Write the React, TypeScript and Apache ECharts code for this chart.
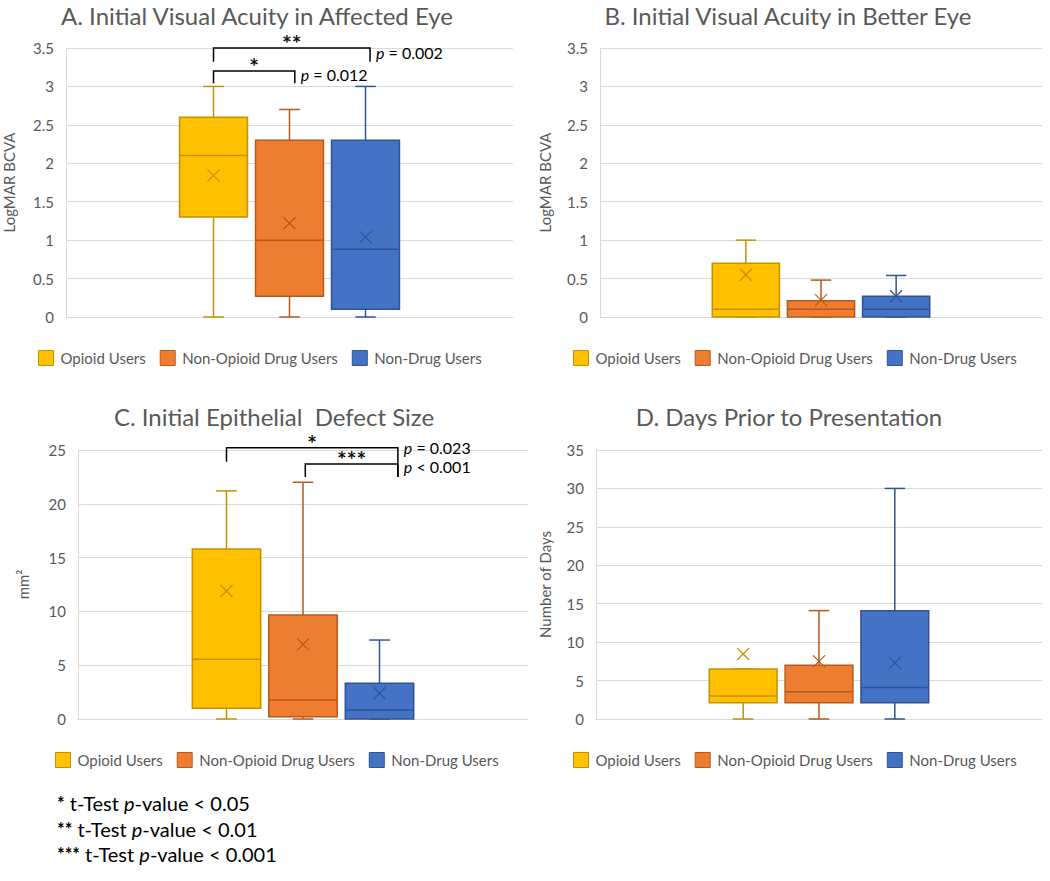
import React, { useEffect, useRef } from 'react';
import * as echarts from 'echarts';

const groups = ['Opioid Users', 'Non-Opioid Drug Users', 'Non-Drug Users'];

// [min, Q1, median, Q3, max, mean]
const affectedOpioid = [0, 1.3, 2.1, 2.6, 3.0, 1.84];
const affectedNonOpioid = [0, 0.27, 1.0, 2.3, 2.7, 1.22];
const affectedNonDrug = [0, 0.1, 0.88, 2.3, 3.0, 1.04];

const betterOpioid = [0, 0, 0.1, 0.7, 1.0, 0.55];
const betterNonOpioid = [0, 0, 0.1, 0.21, 0.48, 0.22];
const betterNonDrug = [0, 0, 0.1, 0.27, 0.54, 0.27];

const defectOpioid = [0, 1.0, 5.55, 15.8, 21.2, 11.9];
const defectNonOpioid = [0, 0.2, 1.77, 9.67, 22.0, 6.94];
const defectNonDrug = [0, 0, 0.84, 3.32, 7.34, 2.39];

const daysOpioid = [0, 2.1, 3.0, 6.5, 6.5, 8.46];
const daysNonOpioid = [0, 2.1, 3.55, 7.0, 14.1, 7.5];
const daysNonDrug = [0, 2.1, 4.1, 14.1, 30.0, 7.3];

const panelTitles = [
  'A. Initial Visual Acuity in Affected Eye',
  'B. Initial Visual Acuity in Better Eye',
  'C. Initial Epithelial  Defect Size',
  'D. Days Prior to Presentation',
];
const yAxisNames = ['LogMAR BCVA', 'LogMAR BCVA', 'mm²', 'Number of Days'];
const yMax = [3.5, 3.5, 25, 35];
const yStep = [0.5, 0.5, 5, 5];

// [fromGroup, toGroup, bracketTop, leftDrop, rightDrop, stars, p-text]
const sigAffected: any[] = [
  [0, 2.06, 3.5, 3.32, 3.32, '**', '= 0.002'],
  [0, 1.07, 3.2, 3.04, 3.04, '*', '= 0.012'],
];
const sigDefect: any[] = [
  [0, 2.24, 25.2, 23.9, 22.5, '*', '= 0.023'],
  [1.03, 2.24, 23.7, 22.5, 22.5, '***', '< 0.001'],
];

const footnoteStars = ['*', '**', '***'];
const footnoteValues = ['< 0.05', '< 0.01', '< 0.001'];

const FONT = 'Lato, "Noto Sans", sans-serif';
const fills = ['#FFC000', '#ED7D31', '#4472C4'];
const strokes = ['#C29200', '#B8591C', '#2F5597'];
const GROUP_SPACING = 0.17;
const BOX_WIDTH = 0.152;
const CAP_WIDTH = 0.046;
const sigTextNudge = [[4, 3], [0, 3]];

const layouts = [
  { left: 65, top: 48, width: 448, height: 269, legendLeft: 38, legendTop: 350, tx: 257, ty: 15, nameGap: 50 },
  { left: 600, top: 48, width: 442, height: 269, legendLeft: 573, legendTop: 350, tx: 788, ty: 15, nameGap: 48 },
  { left: 78, top: 450, width: 450, height: 269, legendLeft: 55, legendTop: 752, tx: 274, ty: 416, nameGap: 48 },
  { left: 596, top: 450, width: 446, height: 269, legendLeft: 573, legendTop: 752, tx: 789, ty: 416, nameGap: 44 },
];

const panelStats = [
  [affectedOpioid, affectedNonOpioid, affectedNonDrug],
  [betterOpioid, betterNonOpioid, betterNonDrug],
  [defectOpioid, defectNonOpioid, defectNonDrug],
  [daysOpioid, daysNonOpioid, daysNonDrug],
];

const makeBoxRender = (gi: number) => (params: any, api: any) => {
  const band = api.size([1, 0])[0];
  const cx = api.coord([0, 0])[0] + (gi - 1) * band * GROUP_SPACING;
  const bw = band * BOX_WIDTH;
  const cw = band * CAP_WIDTH;
  const y = (v: number) => api.coord([0, v])[1];
  const mn = api.value(1), q1 = api.value(2), md = api.value(3), q3 = api.value(4), mx = api.value(5), mean = api.value(6);
  const stroke = strokes[gi];
  const ls = { stroke, lineWidth: 1.5 };
  const my = y(mean);
  const m = 6;
  return {
    type: 'group',
    children: [
      { type: 'line', shape: { x1: cx, y1: y(q3), x2: cx, y2: y(mx) }, style: ls },
      { type: 'line', shape: { x1: cx - cw / 2, y1: y(mx), x2: cx + cw / 2, y2: y(mx) }, style: ls },
      { type: 'line', shape: { x1: cx, y1: y(q1), x2: cx, y2: y(mn) }, style: ls },
      { type: 'line', shape: { x1: cx - cw / 2, y1: y(mn), x2: cx + cw / 2, y2: y(mn) }, style: ls },
      {
        type: 'rect',
        shape: { x: cx - bw / 2, y: y(q3), width: bw, height: y(q1) - y(q3) },
        style: { fill: fills[gi], stroke, lineWidth: 1.5 },
      },
      { type: 'line', shape: { x1: cx - bw / 2, y1: y(md), x2: cx + bw / 2, y2: y(md) }, style: ls },
      { type: 'line', shape: { x1: cx - m, y1: my - m, x2: cx + m, y2: my + m }, style: { stroke, lineWidth: 1.2 } },
      { type: 'line', shape: { x1: cx - m, y1: my + m, x2: cx + m, y2: my - m }, style: { stroke, lineWidth: 1.2 } },
    ],
  };
};

const makeSigRender = (specs: any[], nudges: number[]) => (params: any, api: any) => {
  const s = specs[params.dataIndex];
  const band = api.size([1, 0])[0];
  const c0 = api.coord([0, 0])[0];
  const gx = (g: number) => c0 + (g - 1) * band * GROUP_SPACING;
  const x1 = gx(s[0]);
  const x2 = gx(s[1]);
  const yTop = api.coord([0, s[2]])[1];
  const yL = api.coord([0, s[3]])[1];
  const yR = api.coord([0, s[4]])[1];
  return {
    type: 'group',
    children: [
      {
        type: 'polyline',
        shape: { points: [[x1, yL], [x1, yTop], [x2, yTop], [x2, yR]] },
        style: { stroke: '#000', fill: 'none', lineWidth: 1.5 },
      },
      {
        type: 'text',
        x: (x1 + x2) / 2,
        y: yTop - 5,
        style: {
          text: s[5], fill: '#111', fontSize: 23, fontWeight: 'bold', fontFamily: FONT,
          align: 'center', verticalAlign: 'middle', textAlign: 'center', textVerticalAlign: 'middle',
        },
      },
      {
        type: 'text',
        x: x2 + 6,
        y: yTop + nudges[params.dataIndex],
        style: {
          text: '{i|p}{n| ' + s[6] + '}',
          rich: {
            i: { fontStyle: 'italic', fontSize: 16, fontFamily: FONT, fill: '#000' },
            n: { fontSize: 16, fontFamily: FONT, fill: '#000' },
          },
          fill: '#000', fontSize: 16, fontFamily: FONT,
          align: 'left', verticalAlign: 'middle', textAlign: 'left', textVerticalAlign: 'middle',
        },
      },
    ],
  };
};

function buildOption() {
  const grid = layouts.map((l) => ({ left: l.left, top: l.top, width: l.width, height: l.height, containLabel: false }));
  const xAxis = layouts.map((_, i) => ({
    type: 'category',
    gridIndex: i,
    data: [''],
    axisLine: { show: true, lineStyle: { color: '#D9D9D9', width: 1 } },
    axisTick: { show: false },
    axisLabel: { show: false },
  }));
  const yAxis = layouts.map((l, i) => ({
    type: 'value',
    gridIndex: i,
    min: 0,
    max: yMax[i],
    interval: yStep[i],
    name: yAxisNames[i],
    nameLocation: 'middle',
    nameGap: l.nameGap,
    nameRotate: 90,
    nameTextStyle: { color: '#595959', fontSize: 15, fontFamily: FONT },
    axisLine: { show: true, lineStyle: { color: '#D9D9D9', width: 1 } },
    axisTick: { show: false },
    axisLabel: { color: '#595959', fontSize: 15, fontFamily: FONT, margin: 12 },
    splitLine: { show: true, lineStyle: { color: '#D9D9D9', width: 1 } },
  }));

  const series: any[] = [];
  panelStats.forEach((stats, p) => {
    stats.forEach((st, g) => {
      series.push({
        type: 'custom',
        name: groups[g],
        xAxisIndex: p,
        yAxisIndex: p,
        data: [[0, ...st]],
        encode: { x: 0, y: [1, 2, 3, 4, 5, 6] },
        itemStyle: { color: fills[g], borderColor: strokes[g] },
        renderItem: makeBoxRender(g),
        silent: true,
      });
    });
  });
  [
    { p: 0, specs: sigAffected, nudges: sigTextNudge[0] },
    { p: 2, specs: sigDefect, nudges: sigTextNudge[1] },
  ].forEach(({ p, specs, nudges }) => {
    series.push({
      type: 'custom',
      name: 'significance' + p,
      xAxisIndex: p,
      yAxisIndex: p,
      data: specs.map((s) => [0, s[2]]),
      encode: { x: 0, y: 1 },
      renderItem: makeSigRender(specs, nudges),
      clip: false,
      silent: true,
      z: 10,
    });
  });

  const legend = layouts.map((l) => ({
    left: l.legendLeft,
    top: l.legendTop,
    padding: 0,
    orient: 'horizontal',
    icon: 'rect',
    itemWidth: 15,
    itemHeight: 15,
    itemGap: 14,
    selectedMode: false,
    textStyle: { color: '#595959', fontSize: 15, fontFamily: FONT, padding: [0, 0, 0, 2] },
    data: groups.map((g, i) => ({
      name: g,
      itemStyle: { color: fills[i], borderColor: strokes[i], borderWidth: 1 },
    })),
  }));

  const graphic: any[] = layouts.map((l, i) => ({
    type: 'text',
    x: l.tx,
    y: l.ty,
    style: {
      text: panelTitles[i], fill: '#595959', fontSize: 24, fontFamily: FONT,
      align: 'center', verticalAlign: 'middle', textAlign: 'center', textVerticalAlign: 'middle',
    },
  }));
  footnoteStars.forEach((s, i) => {
    graphic.push({
      type: 'text',
      x: 57,
      y: 803 + i * 25.5,
      style: {
        text: '{s|' + s + '}{n| t-Test }{i|p}{n|-value ' + footnoteValues[i] + '}',
        rich: {
          s: { fontSize: 18, fontFamily: FONT, fill: '#000', fontWeight: 'bold' },
          n: { fontSize: 20, fontFamily: FONT, fill: '#000' },
          i: { fontSize: 20, fontFamily: FONT, fill: '#000', fontStyle: 'italic' },
        },
        fontSize: 20, fontFamily: FONT, fill: '#000',
        align: 'left', verticalAlign: 'middle', textAlign: 'left', textVerticalAlign: 'middle',
      },
    });
  });

  return {
    animation: false,
    backgroundColor: '#ffffff',
    textStyle: { fontFamily: FONT },
    grid,
    xAxis,
    yAxis,
    legend,
    series,
    graphic,
  };
}

export default function App() {
  const ref = useRef<HTMLDivElement>(null);
  useEffect(() => {
    document.body.style.margin = '0';
    const chart = echarts.init(ref.current as HTMLDivElement, null, { renderer: 'svg' });
    chart.setOption(buildOption() as any);
    return () => chart.dispose();
  }, []);
  return <div ref={ref} style={{ width: 1050, height: 881 }} />;
}
